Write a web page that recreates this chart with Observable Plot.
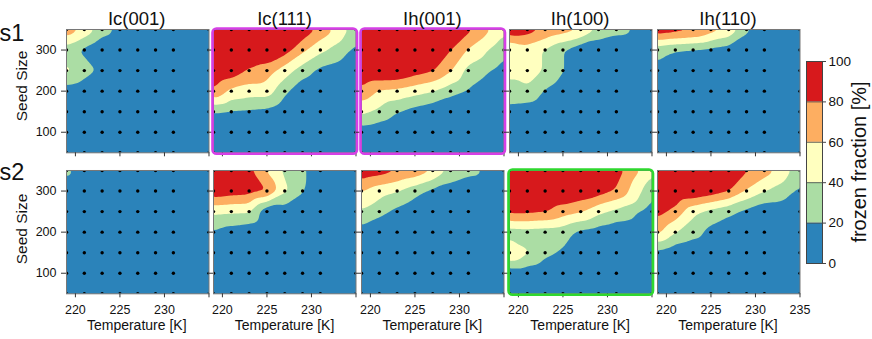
<!DOCTYPE html>
<html><head><meta charset="utf-8">
<script src="https://cdn.jsdelivr.net/npm/d3@7"></script>
<script src="https://cdn.jsdelivr.net/npm/@observablehq/plot@0.6"></script>
<style>
body{margin:0;background:#fff;font-family:"Liberation Sans",Arial,sans-serif;}
#root{position:relative;width:872px;height:339px;overflow:hidden;background:#fff;}
</style></head><body><div id="root"></div>
<script>
// ---- data ----
const temperatures = [219, 221, 223, 225, 227, 229, 231, 235];
const seedSizes = [350, 300, 250, 200, 150, 100, 50];   // rows of each matrix, top to bottom
const panelTitles = ["Ic(001)", "Ic(111)", "Ih(001)", "Ih(100)", "Ih(110)"];
const rowLabels = ["s1", "s2"];
const xTicks = [220, 225, 230, 235];
const yTicks = [100, 200, 300];
const legendTicks = [0, 20, 40, 60, 80, 100];
const thresholds = [20, 40, 60, 80];
const colors = ["#2b83ba", "#abdda4", "#ffffbf", "#fdae61", "#d7191c"];

// frozen fraction [%] — row s1
const s1_Ic001 = [
  [75, 55, 30, 15, 0, 0, 0, 0],
  [30, 15, 0, 0, 0, 0, 0, 0],
  [45, 30, 15, 0, 0, 0, 0, 0],
  [10, 5, 0, 0, 0, 0, 0, 0],
  [0, 0, 0, 0, 0, 0, 0, 0],
  [0, 0, 0, 0, 0, 0, 0, 0],
  [0, 0, 0, 0, 0, 0, 0, 0]];
const s1_Ic111 = [
  [100, 100, 100, 100, 100, 95, 75, 30],
  [100, 100, 100, 100, 90, 65, 45, 15],
  [100, 95, 78, 70, 50, 30, 15, 0],
  [78, 55, 50, 50, 25, 5, 0, 0],
  [21, 18, 17, 15, 5, 0, 0, 0],
  [0, 0, 0, 0, 0, 0, 0, 0],
  [0, 0, 0, 0, 0, 0, 0, 0]];
const s1_Ih001 = [
  [100, 100, 100, 100, 100, 100, 85, 45],
  [100, 100, 100, 100, 95, 81, 58, 25],
  [100, 100, 100, 90, 82, 62, 33, 12],
  [75, 58, 55, 48, 41, 28, 18, 0],
  [45, 35, 21, 12, 5, 0, 0, 0],
  [9, 5, 0, 0, 0, 0, 0, 0],
  [0, 0, 0, 0, 0, 0, 0, 0]];
const s1_Ih100 = [
  [95, 90, 78, 70, 62, 38, 28, 10],
  [38, 50, 38, 21, 5, 3, 0, 0],
  [42, 50, 38, 21, 5, 0, 0, 0],
  [38, 36, 18, 8, 0, 0, 0, 0],
  [10, 8, 3, 0, 0, 0, 0, 0],
  [0, 0, 0, 0, 0, 0, 0, 0],
  [0, 0, 0, 0, 0, 0, 0, 0]];
const s1_Ih110 = [
  [95, 90, 85, 70, 58, 25, 5, 0],
  [28, 21, 18, 15, 10, 5, 0, 0],
  [14, 5, 0, 0, 0, 0, 0, 0],
  [0, 0, 0, 0, 0, 0, 0, 0],
  [0, 0, 0, 0, 0, 0, 0, 0],
  [0, 0, 0, 0, 0, 0, 0, 0],
  [0, 0, 0, 0, 0, 0, 0, 0]];
// frozen fraction [%] — row s2
const s2_Ic001 = [
  [28, 0, 0, 0, 0, 0, 0, 0],
  [0, 0, 0, 0, 0, 0, 0, 0],
  [0, 0, 0, 0, 0, 0, 0, 0],
  [0, 0, 0, 0, 0, 0, 0, 0],
  [0, 0, 0, 0, 0, 0, 0, 0],
  [0, 0, 0, 0, 0, 0, 0, 0],
  [0, 0, 0, 0, 0, 0, 0, 0]];
const s2_Ic111 = [
  [100, 95, 85, 58, 35, 22, 12, 0],
  [95, 90, 88, 81, 44, 22, 0, 0],
  [45, 43, 42, 5, 10, 5, 0, 0],
  [18, 10, 5, 0, 0, 0, 0, 0],
  [0, 0, 0, 0, 0, 0, 0, 0],
  [0, 0, 0, 0, 0, 0, 0, 0],
  [0, 0, 0, 0, 0, 0, 0, 0]];
const s2_Ih001 = [
  [95, 90, 82, 75, 61, 35, 28, 5],
  [61, 48, 41, 28, 15, 10, 0, 0],
  [38, 28, 15, 5, 0, 0, 0, 0],
  [12, 0, 0, 0, 0, 0, 0, 0],
  [0, 0, 0, 0, 0, 0, 0, 0],
  [0, 0, 0, 0, 0, 0, 0, 0],
  [0, 0, 0, 0, 0, 0, 0, 0]];
const s2_Ih100 = [
  [100, 100, 100, 100, 100, 95, 90, 45],
  [100, 100, 100, 100, 95, 90, 78, 25],
  [85, 85, 82, 70, 62, 45, 35, 10],
  [30, 32, 30, 28, 15, 10, 5, 0],
  [62, 42, 25, 18, 5, 0, 0, 0],
  [7, 8, 5, 0, 0, 0, 0, 0],
  [0, 0, 0, 0, 0, 0, 0, 0]];
const s2_Ih110 = [
  [100, 100, 100, 100, 100, 82, 70, 30],
  [100, 100, 100, 92, 81, 58, 41, 16],
  [88, 75, 45, 34, 25, 15, 5, 0],
  [65, 41, 30, 13, 5, 0, 0, 0],
  [15, 5, 0, 0, 0, 0, 0, 0],
  [0, 0, 0, 0, 0, 0, 0, 0],
  [0, 0, 0, 0, 0, 0, 0, 0]];

const panels = [
  [s1_Ic001, s1_Ic111, s1_Ih001, s1_Ih100, s1_Ih110],
  [s2_Ic001, s2_Ic111, s2_Ih001, s2_Ih100, s2_Ih110]];
const highlights = {"0-1": "#d63fe6", "0-2": "#d63fe6", "1-3": "#2fd82f"};

// ---- layout ----
const FONT = '"Liberation Sans", Arial, Helvetica, sans-serif';
const frameLeft = [65.5, 213.3, 361.1, 508.9, 656.7];
const frameW = 142.5;
const frameTop = [29.3, 169.7];
const frameH = 123.3;
const root = document.getElementById("root");

function makePanel(matrix, r, c) {
  const data = [];
  seedSizes.forEach((s, i) => temperatures.forEach((t, j) => data.push({T: t, S: s, v: matrix[i][j]})));
  const mL = c === 0 ? 66 : 6, mR = 6, mT = 6, mB = r === 1 ? 24 : 8;
  const hl = highlights[r + "-" + c];
  const marks = [
    Plot.frame({fill: colors[0]}),
    Plot.contour(data, {x: "T", y: "S", fill: "v", thresholds, interpolate: "barycentric", blur: 1}),
    Plot.dot(data, {x: "T", y: "S", r: 1.7, fill: "black", clip: true}),
    Plot.frame({stroke: "#777", strokeWidth: 1}),
    Plot.axisX(xTicks, {anchor: "bottom", tickSize: 4, tickPadding: 7, label: null, stroke: "#333",
      tickFormat: d => (r === 1 && (d !== 235 || c === 4)) ? String(d) : ""}),
    Plot.axisY(yTicks, {anchor: "left", tickSize: 5, tickPadding: 5, label: null, stroke: "#333",
      tickFormat: d => c === 0 ? String(d) : ""})
  ];
  if (hl) marks.push(Plot.frame({stroke: hl, strokeWidth: 2.6, rx: 4, ry: 4, inset: -1}));
  const svg = Plot.plot({
    width: frameW + mL + mR, height: frameH + mT + mB,
    marginLeft: mL, marginRight: mR, marginTop: mT, marginBottom: mB,
    x: {domain: [219, 235]},
    y: {domain: [50, 350]},
    color: {type: "threshold", domain: thresholds, range: colors},
    style: {fontFamily: FONT, fontSize: "12.5px", color: "#111", background: "transparent", overflow: "visible"},
    marks
  });
  svg.style.position = "absolute";
  svg.style.left = (frameLeft[c] - mL) + "px";
  svg.style.top = (frameTop[r] - mT) + "px";
  root.appendChild(svg);
}
panels.forEach((row, r) => row.forEach((m, c) => makePanel(m, r, c)));

// ---- colour bar ----
const bands = legendTicks.slice(0, -1).map((lo, i) => ({lo, hi: legendTicks[i + 1]}));
const cbL = 805.7, cbT = 60.7, cbW = 16, cbH = 202;
const cb = Plot.plot({
  width: cbW + 2 + 40, height: cbH + 20,
  marginLeft: 2, marginRight: 40, marginTop: 10, marginBottom: 10,
  y: {domain: [0, 100]},
  color: {type: "threshold", domain: thresholds, range: colors},
  style: {fontFamily: FONT, fontSize: "13.5px", color: "#111", background: "transparent", overflow: "visible"},
  marks: [
    Plot.rect(bands, {y1: "lo", y2: "hi", fill: "lo"}),
    Plot.ruleY(thresholds, {stroke: "#444", strokeWidth: 0.8}),
    Plot.frame({stroke: "#444", strokeWidth: 1}),
    Plot.axisY(legendTicks, {anchor: "right", tickSize: 3, tickPadding: 3, label: null, stroke: "#444"})
  ]
});
cb.style.position = "absolute";
cb.style.left = (cbL - 2) + "px";
cb.style.top = (cbT - 10) + "px";
root.appendChild(cb);

// ---- text annotations ----
const ov = d3.select(root).append("svg")
  .attr("width", 872).attr("height", 339)
  .style("position", "absolute").style("left", "0px").style("top", "0px")
  .style("pointer-events", "none").style("font-family", FONT).style("fill", "#111");
panelTitles.forEach((t, c) => ov.append("text").attr("x", frameLeft[c] + frameW / 2).attr("y", 24.5)
  .attr("text-anchor", "middle").style("font-size", "18.5px").text(t));
rowLabels.forEach((t, r) => ov.append("text").attr("x", -0.5).attr("y", r === 0 ? 40.5 : 179.5)
  .style("font-size", "23.5px").text(t));
[86, 229].forEach(cy => ov.append("text")
  .attr("transform", `translate(26.5,${cy}) rotate(-90)`)
  .attr("text-anchor", "middle").style("font-size", "15.5px").text("Seed Size"));
frameLeft.forEach(l => ov.append("text").attr("x", l + frameW / 2).attr("y", 330)
  .attr("text-anchor", "middle").style("font-size", "14px").text("Temperature [K]"));
ov.append("text").attr("transform", "translate(866,162) rotate(-90)")
  .attr("text-anchor", "middle").style("font-size", "20px").text("frozen fraction [%]");
</script></body></html>
